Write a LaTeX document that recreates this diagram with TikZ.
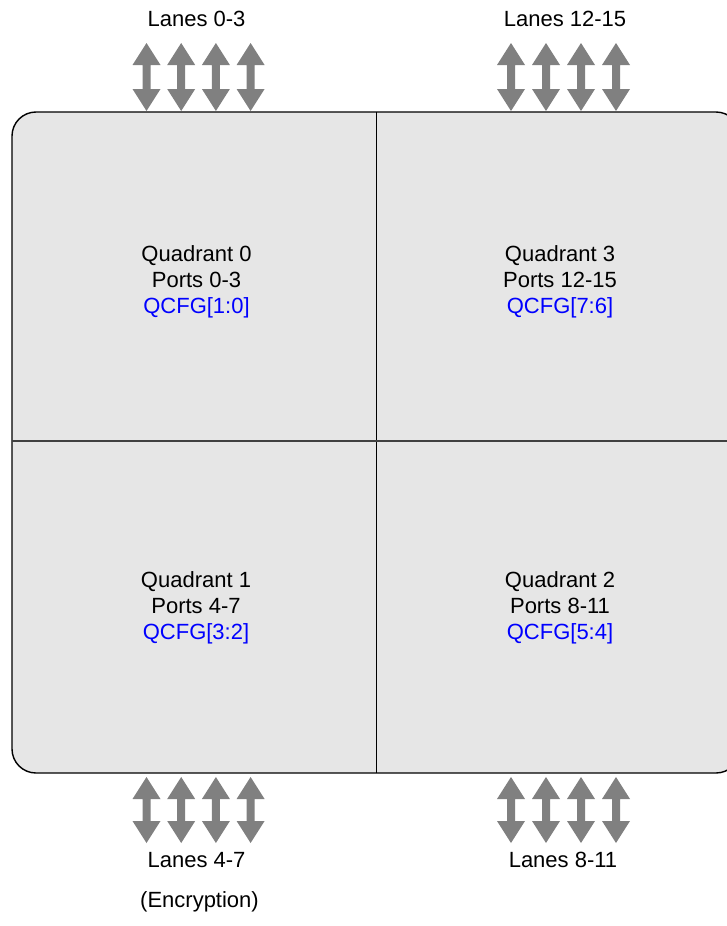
\documentclass[tikz,border=0pt]{standalone}
\usepackage{fontspec}
\setmainfont{Liberation Sans}
\definecolor{boxfill}{HTML}{E6E6E6}
\definecolor{arrowgray}{HTML}{808080}
\definecolor{cfgblue}{HTML}{0000FF}
\newcommand{\lanearrow}[3]{% center x, top y, bottom y
  \fill[arrowgray] (#1,#2) -- ++(14,22) -- ++(-10,0) -- (#1+4,#3-22) -- ++(10,0) -- (#1,#3)
    -- ++(-14,-22) -- ++(10,0) -- (#1-4,#2+22) -- ++(-10,0) -- cycle;}
\begin{document}
\begin{tikzpicture}[x=1pt,y=-1pt,
  txt/.style={font=\fontsize{22}{26}\selectfont, inner sep=0pt, anchor=base, text=black},
  cfg/.style={txt, text=cfgblue}]
\useasboundingbox (0,0) rectangle (727,926);
\begin{scope}
\clip (0,0) rectangle (727,926);
\draw[fill=boxfill, line width=1.4pt, rounded corners=24pt] (12,112) rectangle (740,773);
\draw[line width=1pt, black] (376,112) -- (376,773);
\draw[line width=1.6pt, black!75] (12,441) -- (740,441);
\end{scope}
% arrows
\foreach \c in {146.5,181.2,215.9,250.6,511,546,581,616}{
  \lanearrow{\c}{43}{111}
  \lanearrow{\c}{777}{843}
}
% labels
\node[txt] (l03) at (196.5,26) {Lanes 0-3};
\node[txt] (l1215) at (565,26) {Lanes 12-15};
\node[txt] (l47) at (196.5,867) {Lanes 4-7};
\node[txt] (enc) at (199.5,907) {(Encryption)};
\node[txt] (l811) at (563,867) {Lanes 8-11};
% quadrants
\node[txt] (q0a) at (196.5,261) {Quadrant 0};
\node[txt] (q0b) at (196.5,287) {Ports 0-3};
\node[cfg] (q0c) at (196.5,313) {QCFG[1:0]};
\node[txt] (q3a) at (560,261) {Quadrant 3};
\node[txt] (q3b) at (560,287) {Ports 12-15};
\node[cfg] (q3c) at (560,313) {QCFG[7:6]};
\node[txt] (q1a) at (196,587) {Quadrant 1};
\node[txt] (q1b) at (196,613) {Ports 4-7};
\node[cfg] (q1c) at (196,639) {QCFG[3:2]};
\node[txt] (q2a) at (560,587) {Quadrant 2};
\node[txt] (q2b) at (560,613) {Ports 8-11};
\node[cfg] (q2c) at (560,639) {QCFG[5:4]};
\end{tikzpicture}
\end{document}
